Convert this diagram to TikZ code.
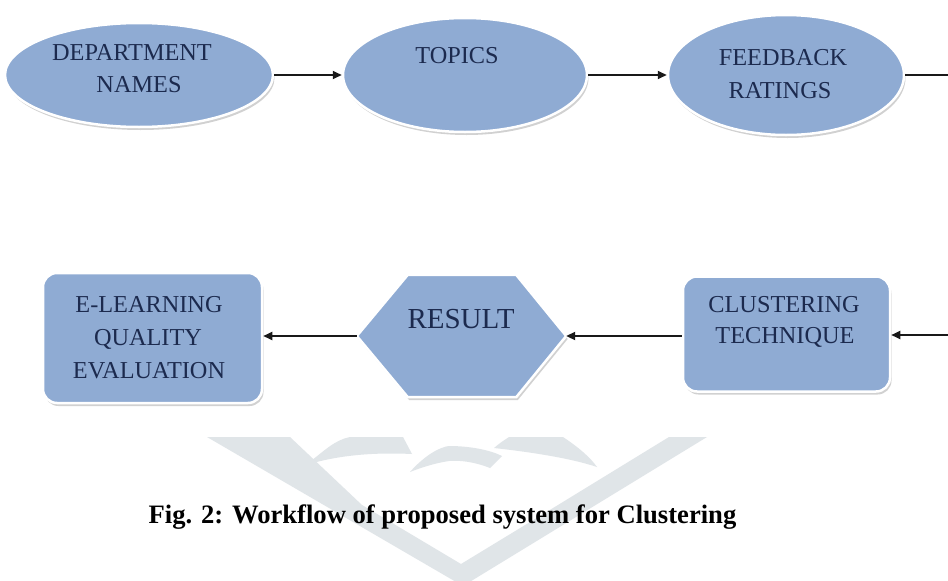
\documentclass[tikz,border=0pt]{standalone}
\usepackage{fontspec}
\setmainfont{Liberation Serif}
\usetikzlibrary{shapes.geometric,arrows.meta,shadows,calc}
\definecolor{boxfill}{RGB}{143,171,211}
\definecolor{boxtext}{RGB}{28,42,78}
\definecolor{wmark}{RGB}{224,229,232}
\definecolor{linec}{RGB}{25,25,25}
\begin{document}
\begin{tikzpicture}[x=1pt,y=-1pt,
  shapebase/.style={fill=boxfill, draw=white, line width=2.5pt,
    drop shadow={shadow xshift=1.5pt, shadow yshift=-3pt, fill=black!45, opacity=0.4}},
  ovalbox/.style={shapebase, ellipse, inner sep=0pt},
  roundbox/.style={shapebase, rectangle, rounded corners=14pt, inner sep=0pt},
  lbl/.style={anchor=base, text=boxtext, font=\fontsize{24.3}{30}\selectfont, inner sep=0pt},
  bigl/.style={anchor=base, text=boxtext, font=\fontsize{29}{34}\selectfont, inner sep=0pt},
  flow/.style={draw=linec, line width=2pt, -{Triangle[length=9pt,width=8pt]}},
  plainline/.style={draw=linec, line width=2pt},
  wm/.style={fill=wmark, draw=none}
]
\useasboundingbox (0,0) rectangle (948,581);
\fill[white] (0,0) rectangle (948,581);

% watermark
\begin{scope}
\clip (0,0) rectangle (948,581);
\path[wm] (207,437) -- (290,437) -- (362,505) -- (461,564) -- (558,505) -- (669,437)
  -- (707,437) -- (463,586) -- cycle;
\path[wm] (306,465) .. controls (325,450) and (335,440) .. (350,437) -- (403,437)
  .. controls (407,445) .. (412,454) .. controls (370,452) and (335,456) .. (306,465) -- cycle;
\path[wm] (410,472) .. controls (425,455) and (440,447) .. (449,446)
  .. controls (470,446) and (490,450) .. (502,456) -- (490,468)
  .. controls (475,462) and (460,460) .. (449,461)
  .. controls (435,463) and (420,468) .. (410,472) -- cycle;
\path[wm] (494,448) .. controls (500,443) .. (509,437) -- (563,437)
  .. controls (578,447) and (590,457) .. (597,467)
  .. controls (570,458) and (530,452) .. (494,448) -- cycle;
\end{scope}

% top row
\node[ovalbox, minimum width=268pt, minimum height=104pt] (dep) at (139,75) {};
\node[ovalbox, minimum width=244pt, minimum height=114pt] (top) at (465,75) {};
\node[ovalbox, minimum width=236pt, minimum height=120pt] (fb) at (786,75) {};
\node[lbl] (depA) at (132,60) {DEPARTMENT};
\node[lbl] (depB) at (139,92) {NAMES};
\node[lbl] (topA) at (457,63) {TOPICS};
\node[lbl] (fbA) at (783,65) {FEEDBACK};
\node[lbl] (fbB) at (780,98) {RATINGS};

% bottom row
\node[roundbox, minimum width=219pt, minimum height=130pt] (el) at (152.5,338) {};
\node[roundbox, minimum width=207pt, minimum height=115pt] (cl) at (786.5,334) {};
\node[minimum width=209pt, minimum height=122pt, inner sep=0pt] (res) at (461.5,336) {};
\path[shapebase] (res.west) -- ($(res.north west)+(51,0)$) -- ($(res.north east)+(-50,0)$)
  -- (res.east) -- ($(res.south east)+(-50,0)$) -- ($(res.south west)+(51,0)$) -- cycle;

\node[lbl] (elA) at (149,312) {E-LEARNING};
\node[lbl] (elB) at (148,345) {QUALITY};
\node[lbl] (elC) at (149,378) {EVALUATION};
\node[bigl] (resA) at (461,328) {RESULT};
\node[lbl] (clA) at (784,312) {CLUSTERING};
\node[lbl] (clB) at (785,343) {TECHNIQUE};

% connectors
\coordinate (rt) at (948,75);
\coordinate (rb) at (948,335);
\draw[flow] (dep.east) -- (top.west);
\draw[flow] (top.east) -- (fb.west);
\draw[plainline] (fb.east) -- (rt);
\draw[flow] (rb) -- (rb -| cl.east);
\draw[flow] (cl.west |- res.east) -- (res.east);
\draw[flow] (res.west) -- (res.west -| el.east);

% caption
\node[anchor=base, inner sep=0pt, font=\fontsize{26.6}{32}\selectfont\bfseries] (cap) at (442.5,523)
  {Fig. 2: Workflow of proposed system for Clustering};
\end{tikzpicture}
\end{document}
